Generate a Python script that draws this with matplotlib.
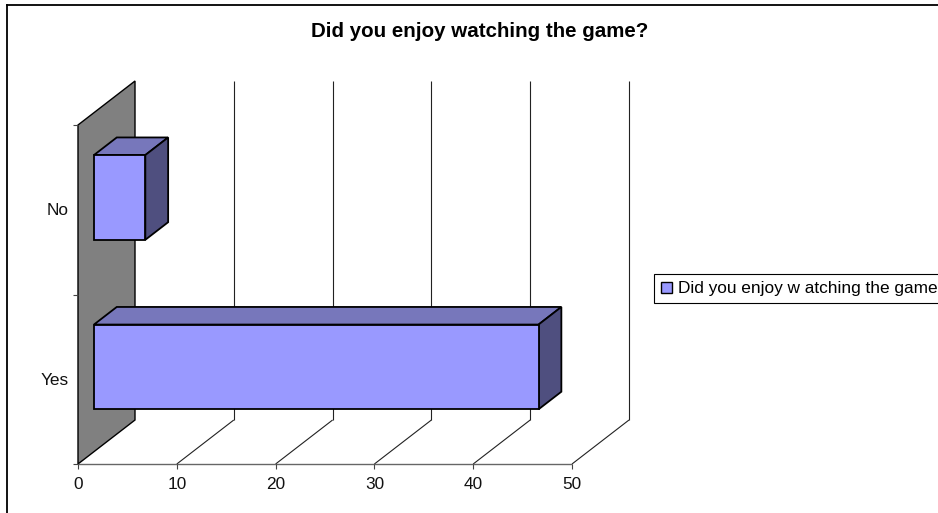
import matplotlib
matplotlib.use("Agg")
import matplotlib.pyplot as plt
from matplotlib.lines import Line2D
from matplotlib.patches import Patch, Polygon

plt.rcParams['font.family'] = ['Liberation Sans', 'DejaVu Sans']

categories = ['Yes', 'No']
values = [45, 5.2]
x_ticks = [0, 10, 20, 30, 40, 50]
title = 'Did you enjoy watching the game?'
series_name = 'Did you enjoy w atching the game'

W, H = 938, 513
fig = plt.figure(figsize=(W / 100, H / 100), dpi=100)
fig.patch.set_facecolor('white')

# outer frame only shows on the top and left
fig.add_artist(Line2D([7 / W, 7 / W], [0, 1 - 4.5 / H], color='black', lw=1.3))
fig.add_artist(Line2D([7 / W, 1], [1 - 4.5 / H, 1 - 4.5 / H], color='black', lw=1.3))

# axes is the front plane of the fake 3d box
ax = fig.add_axes([78 / W, 1 - 464 / H, (572 - 78) / W, (464 - 125) / H])
ax.set_xlim(0, 50)
ax.set_ylim(0, len(categories))
ax.axis('off')

DX = 57 / 494 * 50      # depth shift in x units
DY = 44 / 339 * 2       # depth shift in y units
BAR_H = 0.5
FRONT, BACK = 0.28, 0.68


def pt(v, c, d=0):
    return (v + d * DX, c + d * DY)


def poly(pts, **kw):
    ax.add_patch(Polygon(pts, closed=True, clip_on=False, **kw))


def line(a, b, lw=0.8, color='#222222', z=2):
    ax.plot([a[0], b[0]], [a[1], b[1]], color=color, lw=lw, clip_on=False, zorder=z,
            solid_capstyle='butt')


top = len(categories)

# floor grid and back wall grid
for t in x_ticks[1:]:
    line(pt(t, 0), pt(t, 0, 1))
    line(pt(t, 0, 1), pt(t, top, 1))

# grey side wall
poly([pt(0, 0), pt(0, 0, 1), pt(0, top, 1), pt(0, top)], fc='#808080', ec='black', lw=1.0, zorder=3)

# axis lines and ticks
tick_x = 4.5 / 494 * 50
tick_y = 5 / 339 * 2
line(pt(0, 0), pt(x_ticks[-1], 0), color='#666666', lw=1.0, z=3)
for t in x_ticks:
    line(pt(t, 0), pt(t, -tick_y), color='#444444', z=3)
    ax.text(t, -0.122, str(t), ha='center', va='center', fontsize=12.4, color='#111111')
for c in range(top + 1):
    line(pt(0, c), pt(-tick_x * 1.2, c), color='#444444', z=3)

# bars, drawn as three faces
for i, (cat, val) in enumerate(zip(categories, values)):
    lo = i + 0.5 - BAR_H / 2
    hi = i + 0.5 + BAR_H / 2
    poly([pt(0, hi, FRONT), pt(val, hi, FRONT), pt(val, hi, BACK), pt(0, hi, BACK)],
         fc='#7777bb', ec='black', lw=1.3, zorder=4)
    poly([pt(val, lo, FRONT), pt(val, lo, BACK), pt(val, hi, BACK), pt(val, hi, FRONT)],
         fc='#4f4f7f', ec='black', lw=1.3, zorder=4)
    poly([pt(0, lo, FRONT), pt(val, lo, FRONT), pt(val, hi, FRONT), pt(0, hi, FRONT)],
         fc='#9999ff', ec='black', lw=1.3, zorder=5)
    ax.text(-0.9, i + 0.494, cat, ha='right', va='center', fontsize=12.4, color='#111111')

fig.text(479.5 / W, 1 - 31.5 / H, title, ha='center', va='center', fontsize=14.8, fontweight='bold',
         color='black')

leg = fig.legend(handles=[Patch(fc='#9999ff', ec='black', lw=1.0, label=series_name)],
                 loc='upper left', bbox_to_anchor=(654 / W, 1 - 274 / H), fontsize=12.4,
                 fancybox=False, framealpha=1, edgecolor='black', borderpad=0.42,
                 handlelength=0.62, handleheight=0.62, handletextpad=0.36, borderaxespad=0)
leg.get_frame().set_linewidth(0.8)

fig.savefig('out.png', dpi=100)
